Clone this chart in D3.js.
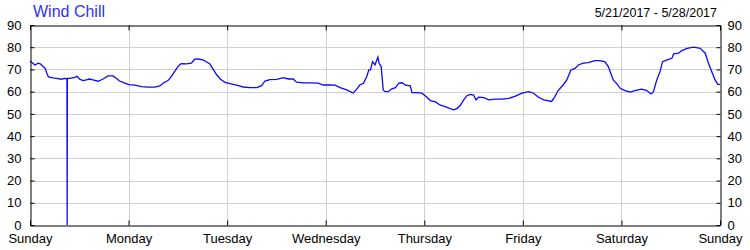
<!DOCTYPE html>
<html>

<head>
    <title>Wind Chill</title>
    <meta charset="utf-8">
    <script src="https://cdn.jsdelivr.net/npm/d3@7"></script>
    <style>
        body { margin: 0; background: #fff; }
        svg { display: block; }
        .axis text { font-family: "Liberation Sans", Arial, sans-serif; font-size: 13px; fill: #000; }
        .axis path, .axis line { stroke: #000; }
    </style>
</head>

<body>
    <svg width="750" height="250"></svg>
</body>
<script>
    // hours since Sunday 00:00 and the wind chill read at that time
    var hours = [0, 0.7, 1.2, 2, 2.5, 3.2, 3.7, 4.1, 4.5, 5.6, 6.8, 7.6, 8.4, 9.0, 9.05, 9.1, 9.7, 10.9, 11.5, 12.1,
        12.9, 13.7, 14.5, 15.3, 16.6, 17.8, 19, 20.2, 21, 21.8, 23.1, 24.1, 25.5, 27.1, 28.7, 30.4, 31.6, 32.4, 33.6, 34.4,
        35.2, 36, 36.8, 38.1, 39.3, 40.1, 40.9, 42.1, 42.6, 43.8, 44.6, 45.5, 46.3, 47.5, 48.7, 50.3, 51.9, 53.6, 55.2, 56.4,
        57.2, 58.4, 60.1, 61.7, 62.9, 64.1, 64.9, 66.6, 68.2, 70.2, 71.4, 73, 74.3, 75.5, 77.1, 78.7, 79.5, 80.3, 81.2, 82,
        82.5, 82.9, 83.4, 84, 84.7, 85, 85.5, 86, 86.5, 87.3, 88.1, 89, 89.8, 90.6, 91.4, 92.6, 93, 94.2, 95.4, 96.3,
        97.5, 98.7, 99.9, 101.1, 102.3, 103.2, 104, 104.8, 105.6, 106.4, 107.2, 108, 108.6, 109.2, 110.5, 111.7, 113.3, 114.9, 116.6, 118.2,
        119.8, 121.4, 122.6, 123.8, 125.1, 127, 127.8, 128.6, 129.8, 130.7, 131.7, 132.7, 133.5, 134.7, 135.9, 137.6, 138.8, 140, 140.8, 141.4,
        142, 142.9, 143.7, 144.9, 146.1, 147.3, 148.9, 150.2, 151.2, 151.8, 152.6, 153.4, 154, 155.1, 156.3, 156.7, 157.9, 158.7, 160, 161.6,
        163.2, 164.4, 165.2, 166, 166.8, 167.5, 168];
    var windChill = [73.8, 72.8, 72, 72.8, 72.5, 71.3, 70.5, 68.3, 66.6, 66.2, 65.9, 65.6, 66, 65.8, 0, 66, 66, 66.4, 66.9, 65.6,
        65, 65.3, 65.7, 65.3, 64.7, 65.7, 67.1, 67.1, 66, 64.8, 63.8, 63.2, 62.9, 62.3, 62, 62, 62.6, 63.8, 65, 66.8,
        69, 71.3, 72.6, 72.5, 72.8, 74.6, 74.7, 74.3, 73.8, 72.5, 70, 67.5, 65.7, 64.2, 63.6, 62.9, 62.1, 61.8, 61.8, 62.7,
        64.8, 65.4, 65.5, 66.3, 65.7, 65.7, 64.3, 64, 64, 63.8, 63, 63, 62.9, 61.8, 60.8, 59.4, 61, 63, 63.8, 66.8,
        69.8, 69.8, 73.5, 72, 75.5, 72.8, 71.3, 60.8, 60, 60.1, 61.3, 61.8, 63.8, 64, 62.9, 62.6, 59.6, 59.6, 59.3, 58,
        56, 55.4, 53.9, 53.3, 52.4, 51.8, 52.5, 53.9, 56.3, 58.2, 58.8, 58.5, 56.3, 57.5, 57.3, 56.3, 56.6, 56.6, 57, 58,
        59.3, 60, 59.3, 57.5, 56.3, 55.6, 57.8, 60.5, 63, 65.3, 69.8, 70.5, 72, 72.8, 73.1, 74, 74, 73.4, 71.3, 68.3,
        65.3, 63.5, 61.5, 60.5, 59.8, 60.5, 61.1, 60.5, 59, 60, 65.3, 69, 73.5, 74.3, 75, 77, 77.3, 78.5, 79.5, 80,
        79.5, 77.3, 72.8, 69, 65.3, 63.3, 63.3];

    var dayNames = ["Sunday", "Monday", "Tuesday", "Wednesday", "Thursday", "Friday", "Saturday", "Sunday"];
    var dayHours = [0, 24, 48, 72, 96, 120, 144, 168];
    var yTicks = [0, 10, 20, 30, 40, 50, 60, 70, 80, 90];
    var title = "Wind Chill";
    var dateRange = "5/21/2017 - 5/28/2017";

    var svg = d3.select("svg");
    var plotLeft = 30, plotRight = 720, plotTop = 25, plotBottom = 225;

    var x = d3.scaleLinear().domain([0, 168]).range([plotLeft, plotRight]);
    var y = d3.scaleLinear().domain([0, 90]).range([plotBottom, plotTop]);

    // grid
    var grid = svg.append("g").attr("stroke", "#d0d0d0").attr("stroke-width", 1);
    grid.selectAll(".gx")
        .data(dayHours.slice(1, -1))
        .enter().append("line")
        .attr("x1", function (d) { return Math.round(x(d)) + 0.5; })
        .attr("x2", function (d) { return Math.round(x(d)) + 0.5; })
        .attr("y1", plotTop).attr("y2", plotBottom);
    grid.selectAll(".gy")
        .data(yTicks.slice(1, -1))
        .enter().append("line")
        .attr("x1", plotLeft).attr("x2", plotRight)
        .attr("y1", function (d) { return Math.round(y(d)) + 0.5; })
        .attr("y2", function (d) { return Math.round(y(d)) + 0.5; });

    // line
    var pts = hours.map(function (h, i) { return [h, windChill[i]]; });
    svg.append("path")
        .datum(pts)
        .attr("fill", "none")
        .attr("stroke", "#0a0aff")
        .attr("stroke-width", 1.3)
        .attr("d", d3.line()
            .x(function (d) { return x(d[0]); })
            .y(function (d) { return y(d[1]); }));

    // axes
    svg.append("g").attr("class", "axis")
        .attr("transform", "translate(0," + (plotBottom + 0.5) + ")")
        .call(d3.axisBottom(x).tickValues(dayHours)
            .tickFormat(function (d, i) { return dayNames[i]; })
            .tickSizeInner(-5).tickSizeOuter(0).tickPadding(8));
    svg.append("g").attr("class", "axis")
        .attr("transform", "translate(0," + (plotTop + 0.5) + ")")
        .call(d3.axisTop(x).tickValues(dayHours).tickFormat("")
            .tickSizeInner(-5).tickSizeOuter(0));
    svg.append("g").attr("class", "axis")
        .attr("transform", "translate(" + (plotLeft + 0.5) + ",0)")
        .call(d3.axisLeft(y).tickValues(yTicks)
            .tickSizeInner(-4).tickSizeOuter(0).tickPadding(9));
    svg.append("g").attr("class", "axis")
        .attr("transform", "translate(" + (plotRight + 0.5) + ",0)")
        .call(d3.axisRight(y).tickValues(yTicks)
            .tickSizeInner(-4).tickSizeOuter(0).tickPadding(7));

    // texts
    svg.append("text")
        .attr("x", 33).attr("y", 17)
        .attr("font-family", "Liberation Sans, Arial, sans-serif")
        .attr("font-size", 16)
        .attr("fill", "#3030ff")
        .text(title);
    svg.append("text")
        .attr("x", 717).attr("y", 17)
        .attr("text-anchor", "end")
        .attr("font-family", "Liberation Sans, Arial, sans-serif")
        .attr("font-size", 12.5)
        .attr("fill", "#000")
        .text(dateRange);
</script>

</html>
